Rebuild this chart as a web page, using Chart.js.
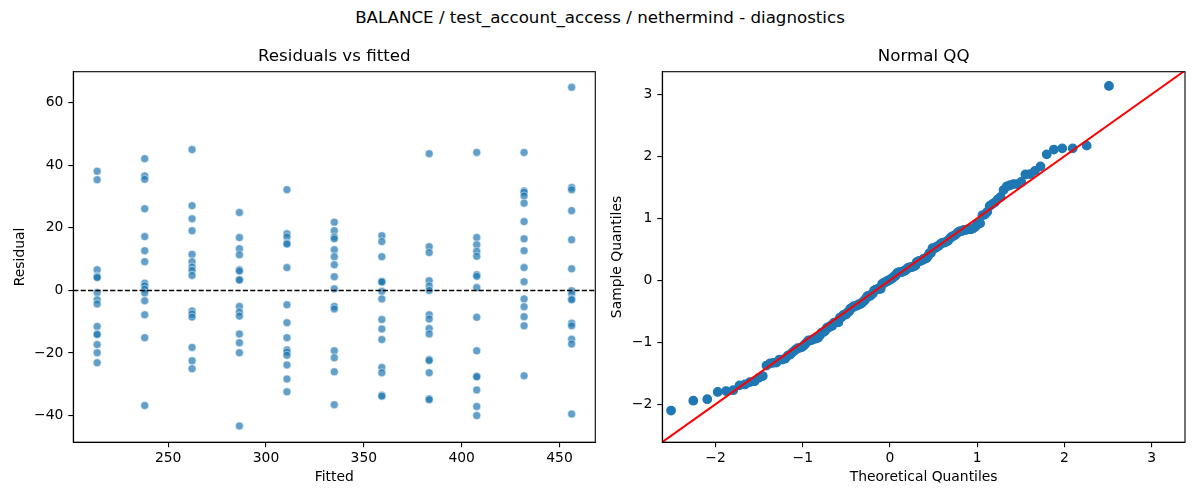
<!DOCTYPE html>
<html>
<head>
<meta charset="utf-8">
<script src="https://cdn.jsdelivr.net/npm/chart.js@4.4.1/dist/chart.umd.min.js"></script>
<style>
  html, body { margin: 0; padding: 0; background: #fff; }
  #wrap { position: relative; width: 1200px; height: 500px; overflow: hidden; font-family: 'DejaVu Sans', sans-serif; }
  #suptitle { position: absolute; left: 0; top: 7.7px; width: 1200px; text-align: center; font-size: 16.67px; line-height: 20px; color: #000; }
  canvas { position: absolute; top: 0; }
  #c1 { left: 0; }
  #c2 { left: 600px; }
</style>
</head>
<body>
<div id="wrap">
  <div id="suptitle">BALANCE / test_account_access / nethermind - diagnostics</div>
  <canvas id="c1" width="600" height="500"></canvas>
  <canvas id="c2" width="600" height="500"></canvas>
</div>
<script>
// ---------------- data ----------------
const fittedLevels = [213.7, 238.0, 262.2, 286.4, 310.7, 334.9, 359.2, 383.4, 407.7, 431.9, 456.2];
const residualColumns = [
  [38.1, 35.4, 6.6, 4.6, 4.3, 4.1, -0.7, -3.0, -4.3, -11.5, -13.9, -14.1, -17.3, -19.9, -23.1],
  [42.1, 36.6, 35.5, 26.1, 17.2, 12.7, 9.2, 2.3, 1.5, 0.4, -0.8, -3.3, -7.8, -15.1, -36.8],
  [45.0, 27.1, 22.9, 19.1, 11.5, 9.2, 7.5, 6.4, 4.8, -6.6, -7.5, -8.5, -18.2, -22.5, -25.0],
  [24.9, 16.9, 13.3, 11.4, 6.6, 6.2, 3.5, 3.3, -5.1, -6.9, -8.2, -13.9, -16.7, -19.9, -43.3],
  [32.2, 18.1, 17.1, 15.1, 14.8, 7.3, -4.6, -10.3, -15.1, -19.0, -19.7, -20.7, -23.8, -28.3, -32.4],
  [21.8, 19.1, 17.1, 16.5, 13.0, 10.8, 8.2, 4.4, 0.5, -5.1, -5.9, -19.3, -21.5, -26.0, -36.5],
  [17.5, 15.6, 10.8, 2.9, 2.8, 2.7, -0.3, -2.7, -9.3, -12.3, -15.7, -24.6, -26.3, -33.5, -33.8],
  [43.7, 14.0, 12.1, 3.1, 1.4, 0.0, -7.8, -9.1, -12.2, -13.9, -22.1, -22.4, -26.3, -34.6, -34.9],
  [44.1, 16.9, 14.6, 12.5, 10.9, 5.0, 4.5, 0.9, -8.6, -19.3, -27.4, -27.6, -31.8, -37.1, -40.0],
  [44.1, 31.8, 31.4, 30.2, 27.9, 22.0, 16.5, 12.7, 7.3, 2.8, -2.7, -5.2, -8.4, -11.3, -27.3],
  [64.9, 32.9, 32.2, 25.5, 16.2, 6.9, -0.1, -1.1, -2.7, -3.0, -10.5, -11.3, -15.6, -17.1, -39.5]
];

// axis ranges and ticks
const residXRange = [201.5, 468.3];
const residYRange = [-48.5, 69.9];
const residXTicks = [250, 300, 350, 400, 450];
const residYTicks = [-40, -20, 0, 20, 40, 60];
const zeroLineY = [0, 0];

const qqXRange = [-2.611, 3.383];
const qqYRange = [-2.613, 3.365];
const qqXTicks = [-2, -1, 0, 1, 2, 3];
const qqYTicks = [-2, -1, 0, 1, 2, 3];
const qqLineEnds = [-2.7, 3.5];

// ---------------- derived series ----------------
const residPoints = [];
fittedLevels.forEach((f, i) => residualColumns[i].forEach(r => residPoints.push({x: f, y: r})));

function normInv(p) {
  const a = [-3.969683028665376e+01, 2.209460984245205e+02, -2.759285104469687e+02, 1.383577518672690e+02, -3.066479806614716e+01, 2.506628277459239e+00];
  const b = [-5.447609879822406e+01, 1.615858368580409e+02, -1.556989798598866e+02, 6.680131188771972e+01, -1.328068155288572e+01];
  const c = [-7.784894002430293e-03, -3.223964580411365e-01, -2.400758277161838e+00, -2.549732539343734e+00, 4.374664141464968e+00, 2.938163982698783e+00];
  const d = [7.784695709041462e-03, 3.224671290700398e-01, 2.445134137142996e+00, 3.754408661907416e+00];
  const pl = 0.02425, ph = 1 - pl;
  let q, r;
  if (p < pl) {
    q = Math.sqrt(-2 * Math.log(p));
    return (((((c[0]*q+c[1])*q+c[2])*q+c[3])*q+c[4])*q+c[5]) / ((((d[0]*q+d[1])*q+d[2])*q+d[3])*q+1);
  }
  if (p <= ph) {
    q = p - 0.5; r = q * q;
    return (((((a[0]*r+a[1])*r+a[2])*r+a[3])*r+a[4])*r+a[5])*q / (((((b[0]*r+b[1])*r+b[2])*r+b[3])*r+b[4])*r+1);
  }
  q = Math.sqrt(-2 * Math.log(1 - p));
  return -(((((c[0]*q+c[1])*q+c[2])*q+c[3])*q+c[4])*q+c[5]) / ((((d[0]*q+d[1])*q+d[2])*q+d[3])*q+1);
}

const allResid = residPoints.map(p => p.y).sort((u, v) => u - v);
const n = allResid.length;
const mean = allResid.reduce((s, v) => s + v, 0) / n;
const sd = Math.sqrt(allResid.reduce((s, v) => s + (v - mean) * (v - mean), 0) / (n - 1));
const qqPoints = allResid.map((v, i) => ({x: normInv((i + 1) / (n + 1)), y: (v - mean) / sd}));

// ---------------- styling helpers ----------------
Chart.defaults.font.family = "'DejaVu Sans', sans-serif";
Chart.defaults.font.size = 13.89;
Chart.defaults.color = '#000';
Chart.defaults.animation = false;

const minus = v => String(v).replace('-', '\u2212');

const framePlugin = {
  id: 'frame',
  afterDatasetsDraw(chart) {
    const {ctx, chartArea: a} = chart;
    ctx.save();
    ctx.strokeStyle = '#000';
    ctx.lineWidth = 1.1;
    ctx.strokeRect(a.left, a.top, a.right - a.left, a.bottom - a.top);
    ctx.restore();
  }
};

function axis(range, ticks, titleText, isX, titlePad, fixedSize) {
  return {
    type: 'linear',
    position: isX ? 'bottom' : 'left',
    min: range[0],
    max: range[1],
    afterBuildTicks: s => { s.ticks = ticks.map(v => ({value: v})); },
    afterFit: s => { if (isX) s.height = fixedSize; else s.width = fixedSize; },
    grid: { display: true, drawOnChartArea: false, drawTicks: true, tickLength: 5, color: '#000', lineWidth: 1.1 },
    border: { display: true, color: '#000', width: 1.1 },
    ticks: { padding: isX ? 3 : 5, color: '#000', font: {size: 13.89}, callback: v => minus(v), maxRotation: 0, autoSkip: false },
    title: { display: true, text: titleText, color: '#000', font: {size: 13.89}, padding: isX ? {top: 0, bottom: titlePad} : {top: titlePad, bottom: 0} }
  };
}

function titleOpts(text) {
  return { display: true, text: text, color: '#000', fullSize: false, font: {size: 16.67, weight: 'normal'}, padding: {top: 46.5, bottom: 5.2} };
}

// ---------------- chart 1: residuals vs fitted ----------------
new Chart(document.getElementById('c1'), {
  type: 'scatter',
  data: {
    datasets: [
      {
        type: 'line',
        data: residXRange.map((x, i) => ({x: x, y: zeroLineY[i]})),
        borderColor: '#000', borderWidth: 1.39, borderDash: [5.15, 2.22],
        pointRadius: 0, fill: false, tension: 0
      },
      {
        data: residPoints,
        backgroundColor: 'rgba(31,119,180,0.7)',
        borderColor: 'rgba(255,255,255,0.7)',
        borderWidth: 0.7,
        pointRadius: 4.0,
        pointHoverRadius: 4.0
      }
    ]
  },
  options: {
    responsive: false,
    devicePixelRatio: 1,
    layout: { padding: {left: 0, right: 2.6, top: 0, bottom: 0} },
    plugins: { legend: {display: false}, tooltip: {enabled: false}, title: titleOpts('Residuals vs fitted') },
    scales: {
      x: axis(residXRange, residXTicks, 'Fitted', true, 13.9, 57.8),
      y: axis(residYRange, residYTicks, 'Residual', false, 12.0, 73.3)
    }
  },
  plugins: [framePlugin]
});

// ---------------- chart 2: normal QQ ----------------
new Chart(document.getElementById('c2'), {
  type: 'scatter',
  data: {
    datasets: [
      {
        type: 'line',
        data: qqLineEnds.map(v => ({x: v, y: v})),
        borderColor: '#ff0000', borderWidth: 2.0,
        pointRadius: 0, fill: false, tension: 0
      },
      {
        data: qqPoints,
        backgroundColor: '#1f77b4',
        borderColor: '#1f77b4',
        borderWidth: 1.4,
        pointRadius: 4.2,
        pointHoverRadius: 4.2
      }
    ]
  },
  options: {
    responsive: false,
    devicePixelRatio: 1,
    layout: { padding: {left: 0, right: 15, top: 0, bottom: 0} },
    plugins: { legend: {display: false}, tooltip: {enabled: false}, title: titleOpts('Normal QQ') },
    scales: {
      x: axis(qqXRange, qqXTicks, 'Theoretical Quantiles', true, 13.9, 57.8),
      y: axis(qqYRange, qqYTicks, 'Sample Quantiles', false, 9.2, 62.3)
    }
  },
  plugins: [framePlugin]
});
</script>
</body>
</html>
